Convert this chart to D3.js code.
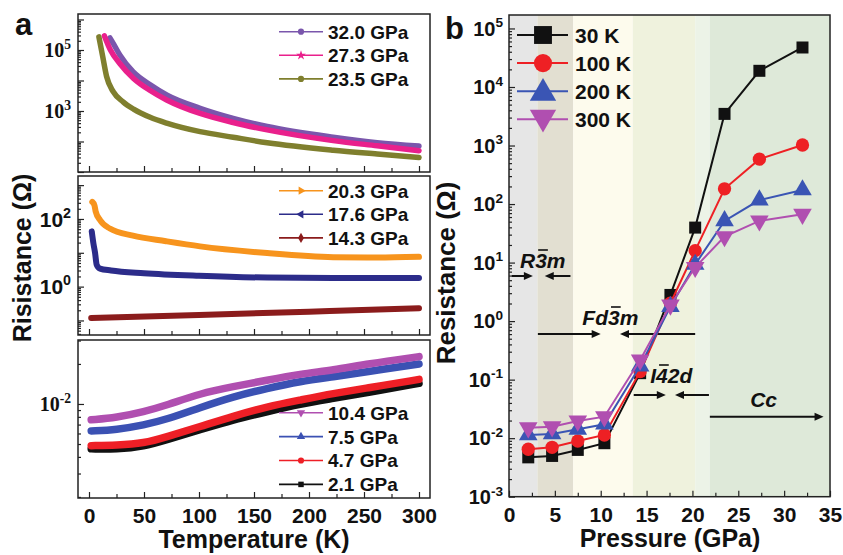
<!DOCTYPE html>
<html>
<head>
<meta charset="utf-8">
<script src="https://cdn.jsdelivr.net/npm/d3@7"></script>
<style>
  body { margin: 0; background: #fff; }
  text { font-family: "Liberation Sans", Arial, sans-serif; font-weight: bold; fill: #111; }
</style>
</head>
<body>
<script>
// ---------------- data ----------------
// panel a, [temperature (K), resistance (ohm)]
const r32_0 = [[19,2.5e5],[22,1.65e5],[28,6.9e4],[40,1.95e4],[56,7.1e3],[71,3.3e3],[101,1230],[131,575],[162,310],[222,138],[262,91],[300,71]];
const r27_3 = [[14,2.9e5],[19.5,1.0e5],[28,3.6e4],[40.5,1.17e4],[55.6,4.7e3],[70.6,2.3e3],[101,830],[131,420],[162,240],[222,107],[262,72],[300,50]];
const r23_5 = [[9,2.7e5],[12.5,6e4],[16,1.35e4],[22,4.3e3],[31,2.0e3],[40.5,1150],[55.6,620],[70.6,400],[101,210],[131,138],[162,91],[222,52],[262,39],[300,30]];

const r20_3 = [[3,320],[5,250],[6,170],[10,93],[19,52],[40,32],[70,22],[101,15.5],[162,9.8],[222,7.4],[262,7.2],[300,7.6]];
const r17_6 = [[2.5,43],[4,19],[5.5,10],[7,4.4],[10,3.4],[20,3.0],[50,2.5],[100,2.1],[162,1.85],[222,1.8],[300,1.8]];
const r14_3 = [[2,0.118],[100,0.145],[200,0.182],[300,0.23]];

const tLow = [2, 25, 50, 71, 101, 131, 162, 192, 222, 253, 300];
const r10_4 = [7.6e-3, 7.9e-3, 8.75e-3, 9.8e-3, 1.2e-2, 1.35e-2, 1.51e-2, 1.68e-2, 1.8e-2, 2.0e-2, 2.27e-2];
const r7_5  = [6.27e-3, 6.4e-3, 6.95e-3, 7.67e-3, 9.4e-3, 1.135e-2, 1.31e-2, 1.48e-2, 1.6e-2, 1.75e-2, 2.0e-2];
const r4_7  = [4.86e-3, 4.9e-3, 5.06e-3, 5.68e-3, 6.76e-3, 8.1e-3, 9.55e-3, 1.07e-2, 1.2e-2, 1.32e-2, 1.53e-2];
const r2_1  = [4.6e-3, 4.57e-3, 4.8e-3, 5.4e-3, 6.4e-3, 7.6e-3, 8.75e-3, 1.0e-2, 1.1e-2, 1.22e-2, 1.43e-2];

const tempTicks = [0, 50, 100, 150, 200, 250, 300];

// panel b
const pressures = [2.1, 4.7, 7.5, 10.4, 14.3, 17.6, 20.3, 23.5, 27.3, 32.0];
const r30K  = [4.7e-3, 4.97e-3, 6.3e-3, 8.2e-3, 0.129, 2.8, 39.6, 3470, 1.89e4, 4.73e4];
const r100K = [6.46e-3, 6.98e-3, 8.95e-3, 1.135e-2, 0.137, 2.02, 16, 182, 585, 1020];
const r200K = [1.135e-2, 1.18e-2, 1.42e-2, 1.73e-2, 0.171, 1.77, 9.3, 51.6, 117, 174];
const r300K = [1.51e-2, 1.57e-2, 1.97e-2, 2.33e-2, 0.217, 1.89, 8.3, 27.8, 51.6, 67];
const pressTicks = [0, 5, 10, 15, 20, 25, 30, 35];
const phaseEdges = [0, 3.1, 7.0, 13.5, 20.3, 21.9, 35];
const phaseFills = ["#e6e6e6", "#e2dfd1", "#fdfbed", "#eff2dd", "#ecf3e7", "#dee9d9"];

// ---------------- helpers ----------------
const svg = d3.select("body").append("svg").attr("width", 843).attr("height", 555);

function logTicks(dom) {
  const major = [], minor = [];
  for (let e = Math.floor(Math.log10(dom[0])); e <= Math.ceil(Math.log10(dom[1])); e++) {
    for (let m = 1; m <= 9; m++) {
      const v = m * Math.pow(10, e);
      if (v >= dom[0] && v <= dom[1]) (m === 1 ? major : minor).push(v);
    }
  }
  return { major, minor };
}

function powLabel(g, x, y, exp, size, serif) {
  const t = g.append("text")
    .attr("x", x).attr("y", y + size * 0.36)
    .attr("text-anchor", "end")
    .style("font-size", size + "px");
  if (serif) t.style("font-family", "'Liberation Serif', 'Times New Roman', serif");
  t.append("tspan").text("10");
  t.append("tspan").attr("dy", -size * 0.42).style("font-size", (size * 0.68) + "px").text(exp);
}

function yTicks(g, y, x0, dom) {
  const tk = logTicks(dom);
  g.append("g").attr("transform", `translate(${x0},0)`)
    .call(d3.axisLeft(y).tickValues(tk.minor).tickSize(-3).tickFormat(""))
    .call(a => a.select(".domain").remove());
  g.append("g").attr("transform", `translate(${x0},0)`)
    .call(d3.axisLeft(y).tickValues(tk.major).tickSize(-6).tickFormat(""))
    .call(a => a.select(".domain").remove());
}

// ---------------- panel a ----------------
const xa = d3.scaleLinear().domain([-10, 310]).range([78, 430]);
const ga = svg.append("g");

const subplots = [
  { y0: 14, y1: 172, dom: [Math.pow(10, 1.0), Math.pow(10, 6.18)], labels: [[1e3, "3"], [1e5, "5"]], serif: true, width: 5.5,
    legendY: 31.7, curve: d3.curveMonotoneX,
    series: [
      { name: "32.0 GPa", color: "#7a56ac", data: r32_0, sym: d3.symbolCircle, rot: 0 },
      { name: "27.3 GPa", color: "#e9208c", data: r27_3, sym: d3.symbolStar, rot: 0 },
      { name: "23.5 GPa", color: "#7f7f2e", data: r23_5, sym: d3.symbolCircle, rot: 0 }
    ] },
  { y0: 176, y1: 335, dom: [Math.pow(10, -1.43), Math.pow(10, 3.27)], labels: [[1, "0"], [100, "2"]], serif: false, width: 6,
    legendY: 190.7, curve: d3.curveMonotoneX,
    series: [
      { name: "20.3 GPa", color: "#f7941d", data: r20_3, sym: d3.symbolTriangle, rot: 90 },
      { name: "17.6 GPa", color: "#2c2c8a", data: r17_6, sym: d3.symbolTriangle, rot: -90 },
      { name: "14.3 GPa", color: "#8b1c1c", data: r14_3, sym: d3.symbolDiamond, rot: 0 }
    ] },
  { y0: 340, y1: 498, dom: [Math.pow(10, -2.707), Math.pow(10, -1.519)], labels: [[1e-2, "-2"]], serif: true, width: 7.5,
    legendY: 412.7, curve: d3.curveBasis,
    series: [
      { name: "10.4 GPa", color: "#b04fb0", data: tLow.map((t, i) => [t, r10_4[i]]), sym: d3.symbolTriangle, rot: 180 },
      { name: "7.5 GPa", color: "#3b51b3", data: tLow.map((t, i) => [t, r7_5[i]]), sym: d3.symbolTriangle, rot: 0 },
      { name: "4.7 GPa", color: "#ee1f26", data: tLow.map((t, i) => [t, r4_7[i]]), sym: d3.symbolCircle, rot: 0 },
      { name: "2.1 GPa", color: "#111111", data: tLow.map((t, i) => [t, r2_1[i]]), sym: d3.symbolSquare, rot: 0 }
    ] }
];

subplots.forEach((sp, k) => {
  const y = d3.scaleLog().domain(sp.dom).range([sp.y1, sp.y0]);
  const g = ga.append("g");
  const clipId = "clipA" + k;
  svg.append("clipPath").attr("id", clipId).append("rect")
    .attr("x", 78).attr("y", sp.y0).attr("width", 352).attr("height", sp.y1 - sp.y0);

  const line = d3.line().x(d => xa(d[0])).y(d => y(d[1])).curve(sp.curve);
  const order = k === 2 ? sp.series.slice().reverse() : sp.series;
  order.forEach(s => {
    g.append("path").attr("clip-path", `url(#${clipId})`)
      .attr("d", line(s.data))
      .attr("fill", "none").attr("stroke", s.color)
      .attr("stroke-width", sp.width).attr("stroke-linecap", "round").attr("stroke-linejoin", "round");
  });

  // legend
  sp.series.forEach((s, i) => {
    const ly = sp.legendY + i * (k === 2 ? 23.9 : 23.6);
    g.append("line").attr("x1", 279).attr("x2", 323).attr("y1", ly).attr("y2", ly)
      .attr("stroke", s.color).attr("stroke-width", 1.6);
    g.append("path").attr("d", d3.symbol().type(s.sym).size(30)())
      .attr("transform", `translate(301,${ly}) rotate(${s.rot})`).attr("fill", s.color);
    g.append("text").attr("x", 328).attr("y", ly + 6.9).style("font-size", "19px").text(s.name);
  });

  // ticks
  yTicks(g, y, 78, sp.dom);
  g.append("g").attr("transform", `translate(0,${sp.y1})`)
    .call(d3.axisBottom(xa).tickValues([25, 75, 125, 175, 225, 275]).tickSize(-4).tickFormat(""))
    .call(a => a.select(".domain").remove());
  const xMajor = g.append("g").attr("transform", `translate(0,${sp.y1})`)
    .call(d3.axisBottom(xa).tickValues(tempTicks).tickSize(-6).tickPadding(10).tickFormat(k === 2 ? d3.format("d") : ""))
    .call(a => a.select(".domain").remove());
  xMajor.selectAll("text").style("font-size", "21px").attr("fill", "#111");
  sp.labels.forEach(l => powLabel(g, 71, y(l[0]), l[1], k === 1 ? 21 : 20, sp.serif));

  g.append("rect").attr("x", 78).attr("y", sp.y0).attr("width", 352).attr("height", sp.y1 - sp.y0)
    .attr("fill", "none").attr("stroke", "#222").attr("stroke-width", 1.5);
});

ga.selectAll(".tick line").attr("stroke", "#222").attr("stroke-width", 1.2);

ga.append("text").attr("x", 254).attr("y", 548).attr("text-anchor", "middle")
  .style("font-size", "25px").text("Temperature (K)");
ga.append("text").attr("transform", "translate(31,258) rotate(-90)").attr("text-anchor", "middle")
  .style("font-size", "25px").text("Risistance (\u03A9)");
ga.append("text").attr("x", 15).attr("y", 35).style("font-size", "31px").text("a");

// ---------------- panel b ----------------
const gb = svg.append("g");
const xb = d3.scaleLinear().domain([0, 35]).range([509, 830]);
const yDomB = [1e-3, Math.pow(10, 5.23)];
const yb = d3.scaleLog().domain(yDomB).range([496.7, 15]);

phaseFills.forEach((c, i) => {
  gb.append("rect").attr("x", xb(phaseEdges[i])).attr("y", 15)
    .attr("width", xb(phaseEdges[i + 1]) - xb(phaseEdges[i])).attr("height", 481.7)
    .attr("fill", c);
});

// phase annotations
function arrow(x1, x2, y) {
  const dir = x2 > x1 ? 1 : -1;
  gb.append("line").attr("x1", xb(x1)).attr("x2", xb(x2) - dir * 6).attr("y1", y).attr("y2", y)
    .attr("stroke", "#111").attr("stroke-width", 2);
  const hx = xb(x2);
  gb.append("path").attr("d", `M${hx},${y} L${hx - dir * 9},${y - 4} L${hx - dir * 9},${y + 4} Z`).attr("fill", "#111");
}
function phaseLabel(str, barIdx, p, y) {
  const t = gb.append("text").attr("x", xb(p)).attr("y", y)
    .style("font-size", "21px").style("font-style", "italic").text(str);
  if (barIdx >= 0) {
    const b = t.node().getExtentOfChar(barIdx);
    gb.append("line").attr("x1", b.x + 3).attr("x2", b.x + b.width + 1)
      .attr("y1", b.y + 1).attr("y2", b.y + 1).attr("stroke", "#111").attr("stroke-width", 1.6);
  }
}
arrow(0.3, 2.6, 276); arrow(6.7, 3.9, 276);
arrow(3.15, 10.0, 334); arrow(20.3, 12.1, 334);
arrow(13.6, 17.1, 395); arrow(21.8, 18.1, 395);
arrow(21.9, 34.3, 416.7);
phaseLabel("R3m", 1, 1.2, 268);
phaseLabel("Fd3m", 2, 8.0, 325);
phaseLabel("I42d", 1, 15.4, 383);
phaseLabel("Cc", -1, 26.3, 407);

const seriesB = [
  { name: "30 K", color: "#111111", vals: r30K, sym: d3.symbolSquare, size: 144, lsize: 320, rot: 0 },
  { name: "100 K", color: "#ee2024", vals: r100K, sym: d3.symbolCircle, size: 140, lsize: 260, rot: 0 },
  { name: "200 K", color: "#3a55b4", vals: r200K, sym: d3.symbolTriangle, size: 150, lsize: 300, rot: 0 },
  { name: "300 K", color: "#b04fb0", vals: r300K, sym: d3.symbolTriangle, size: 150, lsize: 300, rot: 180 }
];
const lineB = d3.line().x((d, i) => xb(pressures[i])).y(d => yb(d));
seriesB.forEach(s => {
  gb.append("path").attr("d", lineB(s.vals)).attr("fill", "none")
    .attr("stroke", s.color).attr("stroke-width", 2);
  gb.selectAll(null).data(s.vals).join("path")
    .attr("d", d3.symbol().type(s.sym).size(s.size)())
    .attr("transform", (d, i) => `translate(${xb(pressures[i])},${yb(d)}) rotate(${s.rot})`)
    .attr("fill", s.color);
});

// legend b
seriesB.forEach((s, i) => {
  const ly = 35 + i * 28.1;
  gb.append("line").attr("x1", 517).attr("x2", 568).attr("y1", ly).attr("y2", ly)
    .attr("stroke", s.color).attr("stroke-width", 2);
  gb.append("path").attr("d", d3.symbol().type(s.sym).size(s.lsize)())
    .attr("transform", `translate(543,${ly + (s.sym === d3.symbolTriangle ? (s.rot ? -2 : 2) : 0)}) rotate(${s.rot})`)
    .attr("fill", s.color);
  gb.append("text").attr("x", 575).attr("y", ly + 7.6).style("font-size", "21px").text(s.name);
});

// axes b
yTicks(gb, yb, 509, yDomB);
logTicks(yDomB).major.forEach(v => powLabel(gb, 503, yb(v), String(Math.round(Math.log10(v))), 20, false));
gb.append("g").attr("transform", "translate(0,496.7)")
  .call(d3.axisBottom(xb).tickValues([2.5, 7.5, 12.5, 17.5, 22.5, 27.5, 32.5]).tickSize(-4).tickFormat(""))
  .call(a => a.select(".domain").remove());
gb.append("g").attr("transform", "translate(0,496.7)")
  .call(d3.axisBottom(xb).tickValues(pressTicks).tickSize(-6).tickPadding(10).tickFormat(d3.format("d")))
  .call(a => a.select(".domain").remove())
  .selectAll("text").style("font-size", "21px").attr("fill", "#111");
gb.selectAll(".tick line").attr("stroke", "#222").attr("stroke-width", 1.2);
gb.append("rect").attr("x", 509).attr("y", 15).attr("width", 321).attr("height", 481.7)
  .attr("fill", "none").attr("stroke", "#222").attr("stroke-width", 1.5);

gb.append("text").attr("x", 670).attr("y", 547).attr("text-anchor", "middle")
  .style("font-size", "25px").text("Pressure (GPa)");
gb.append("text").attr("transform", "translate(455,273) rotate(-90)").attr("text-anchor", "middle")
  .style("font-size", "26px").text("Resistance (\u03A9)");
gb.append("text").attr("x", 445).attr("y", 39).style("font-size", "31px").text("b");
</script>
</body>
</html>
